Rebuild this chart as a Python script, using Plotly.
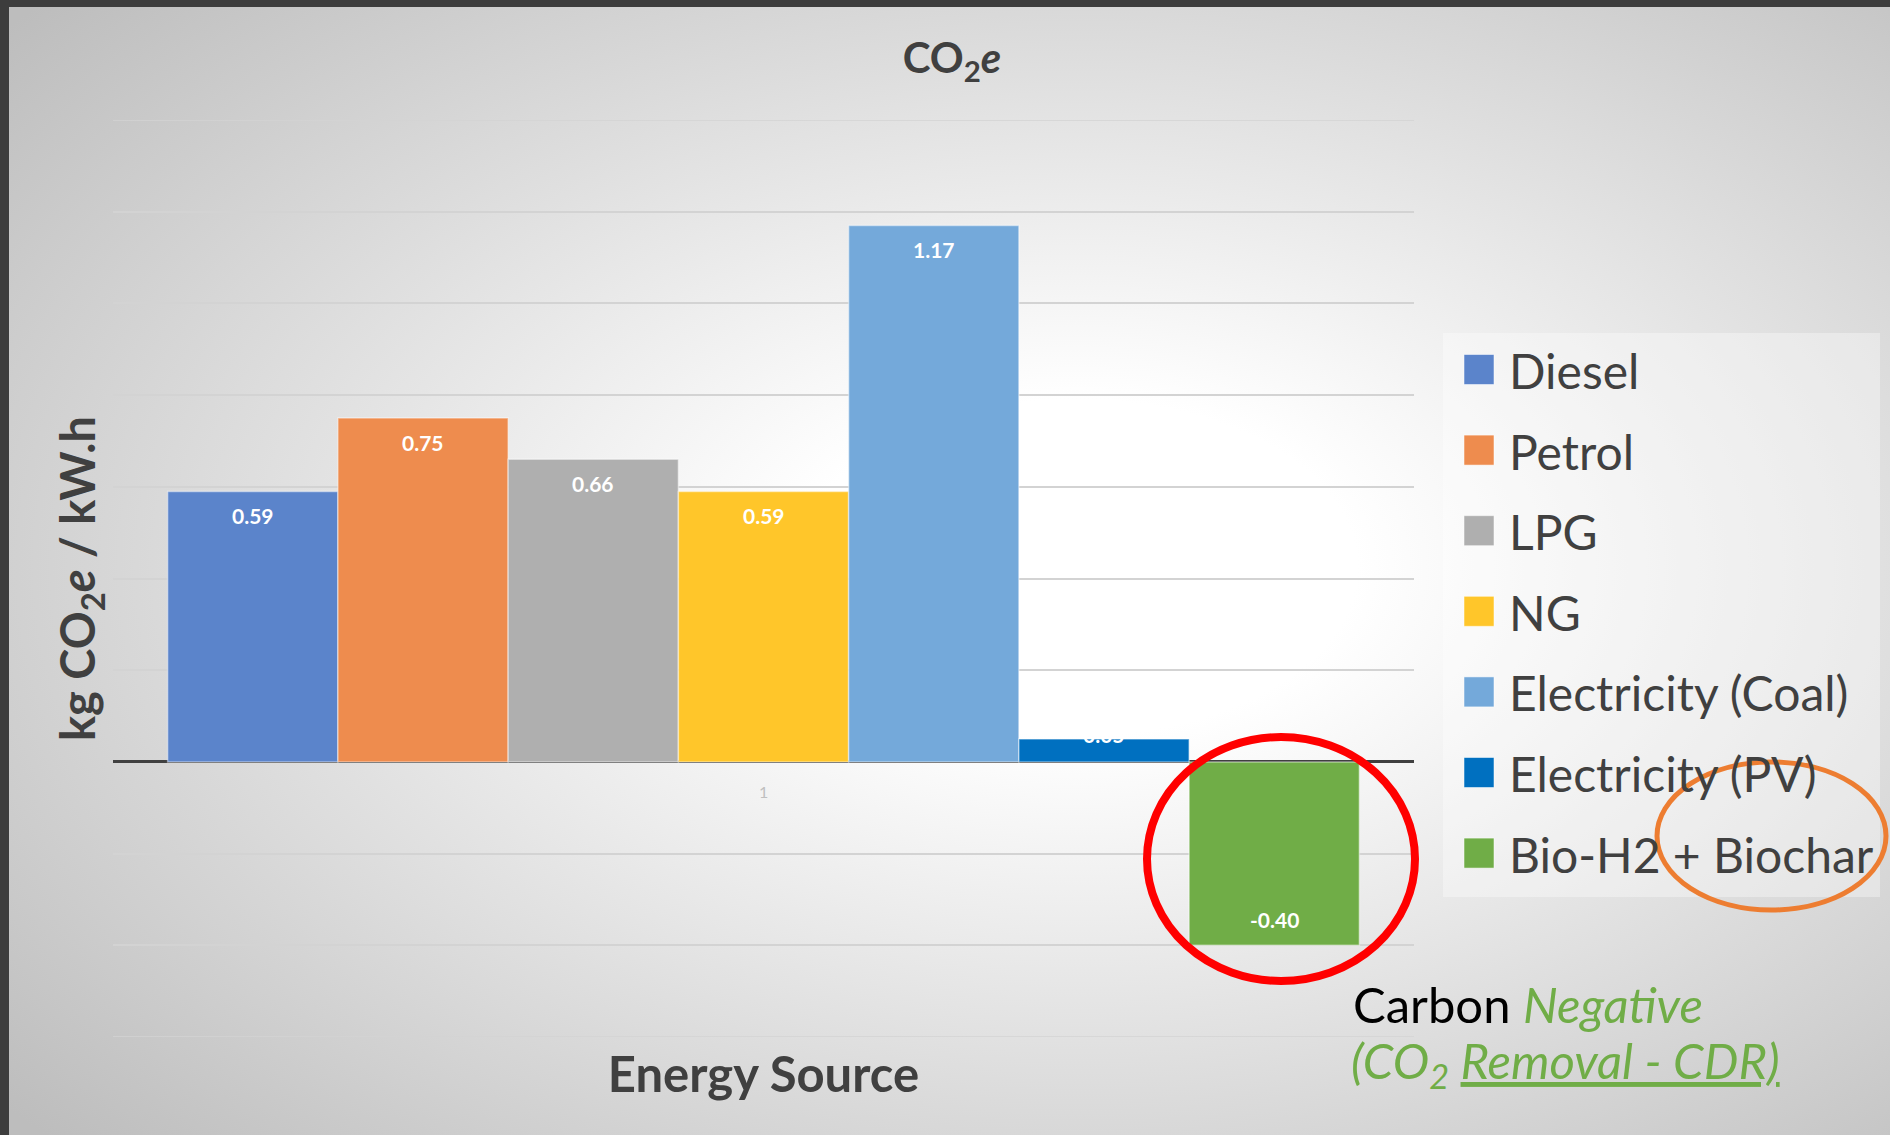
import base64
import plotly.graph_objects as go

# ---------------- data ----------------
categories = ["1"]
series_names = ["Diesel", "Petrol", "LPG", "NG", "Electricity (Coal)", "Electricity (PV)", "Bio-H2 + Biochar"]
series_values = [0.59, 0.75, 0.66, 0.59, 1.17, 0.05, -0.40]
series_colors = ["#5B84CB", "#EE8C4E", "#AFAFAF", "#FFC62A", "#74A9DA", "#0070C0", "#70AD47"]

title_text = "<b>CO<sub>2</sub><i>e</i></b>"
y_title = "<b>kg CO<sub>2</sub><i>e</i> / kW.h</b>"
x_title = "<b>Energy Source</b>"

# ---------------- layout geometry (pixels) ----------------
W, H = 1890, 1135
ML, MR, MT, MB = 113, 476, 120, 98
PW, PH = W - ML - MR, H - MT - MB
Y_RANGE = [-0.6, 1.4]
BARGAP = 0.084
PX_PER_UNIT = PH / (Y_RANGE[1] - Y_RANGE[0])
GRID = "#D3D3D3"


def px(xp):
    return (xp - ML) / PW


def py(yp):
    return (H - MB - yp) / PH


FONT = "Lato, 'Open Sans', sans-serif"
TXT = "#404040"

n = len(series_names)
bar_w = (1 - BARGAP) / n
fig = go.Figure()
annotations = []
for i, (name, val, col) in enumerate(zip(series_names, series_values, series_colors)):
    off = -0.5 * (1 - BARGAP) + i * bar_w
    fig.add_trace(go.Bar(
        x=categories, y=[val], name=name, offset=off, width=bar_w,
        marker=dict(color=col, line=dict(color="rgba(255,255,255,0.45)", width=1.5)),
        showlegend=False,
    ))
    # data label (inside end, like the original)
    h = abs(val) * PX_PER_UNIT
    if h > 50:
        shift = -24 if val > 0 else 26
    else:
        shift = 4
    annotations.append(dict(text=f"{val:.2f}", xref="x", yref="y", x=off + bar_w / 2, y=val,
                            yshift=shift, showarrow=False, xanchor="center", yanchor="middle",
                            font=dict(family=FONT, size=21, color="white", weight="bold")))

# gradient background (slide background)
svg = f'''<svg xmlns="http://www.w3.org/2000/svg" width="{W}" height="{H}" viewBox="0 0 {W} {H}" preserveAspectRatio="none">
<defs><radialGradient id="g" cx="0.57" cy="0.5" r="0.74" fx="0.57" fy="0.5">
<stop offset="0" stop-color="#ffffff"/><stop offset="0.2" stop-color="#ffffff"/>
<stop offset="1" stop-color="#bdbdbd"/></radialGradient></defs>
<rect x="0" y="0" width="{W}" height="{H}" fill="url(#g)"/></svg>'''
src = "data:image/svg+xml;base64," + base64.b64encode(svg.encode()).decode()

shapes = []
# gridlines at the two range ends (plotly drops gridlines on the plot edges)
for yv in Y_RANGE:
    shapes.append(dict(type="line", xref="paper", yref="y", x0=0, x1=1, y0=yv, y1=yv,
                       layer="below", line=dict(color=GRID, width=1.5)))
# legend panel
shapes.append(dict(type="rect", xref="paper", yref="paper", layer="below",
                   x0=px(1443), x1=px(1880), y0=py(897), y1=py(333),
                   fillcolor="rgba(255,255,255,0.35)", line=dict(width=0)))
# slide frame
shapes.append(dict(type="rect", xref="paper", yref="paper", layer="above",
                   x0=px(0), x1=px(W), y0=py(7), y1=py(0), fillcolor="#3d3d3d", line=dict(width=0)))
shapes.append(dict(type="rect", xref="paper", yref="paper", layer="above",
                   x0=px(0), x1=px(9), y0=py(H), y1=py(0), fillcolor="#3d3d3d", line=dict(width=0)))

# custom legend
row0, row_step = 369.5, 80.6
for i, (name, col) in enumerate(zip(series_names, series_colors)):
    cy = row0 + i * row_step
    shapes.append(dict(type="rect", xref="paper", yref="paper", layer="above",
                       x0=px(1464), x1=px(1494), y0=py(cy + 15), y1=py(cy - 15),
                       fillcolor=col, line=dict(color="rgba(255,255,255,0.5)", width=1)))
    annotations.append(dict(text=name, xref="paper", yref="paper", x=px(1507), y=py(cy + 1),
                            xanchor="left", yanchor="middle", showarrow=False,
                            font=dict(family=FONT, size=48, color=TXT)))

# highlight ellipses
shapes.append(dict(type="circle", xref="paper", yref="paper", layer="above",
                   x0=px(1147), x1=px(1415), y0=py(981), y1=py(737),
                   line=dict(color="#FF0000", width=8)))
shapes.append(dict(type="circle", xref="paper", yref="paper", layer="above",
                   x0=px(1657), x1=px(1886), y0=py(910), y1=py(762),
                   line=dict(color="#ED7D31", width=5)))

# category tick label at the zero line
annotations.append(dict(text=categories[0], xref="x", yref="y", x=0, y=0, yshift=-30,
                        showarrow=False, font=dict(family=FONT, size=16, color="#BFBFBF")))

# carbon negative note
annotations.append(dict(text="Carbon <span style='color:#70AD47'><i>Negative</i></span>",
                        xref="paper", yref="paper", x=px(1351), y=py(1004),
                        xanchor="left", yanchor="middle", showarrow=False,
                        font=dict(family=FONT, size=49, color="#000000")))
annotations.append(dict(text="<i>(CO<sub>2</sub> <u>Removal - CDR)</u></i>",
                        xref="paper", yref="paper", x=px(1349), y=py(1063),
                        xanchor="left", yanchor="middle", showarrow=False,
                        font=dict(family=FONT, size=49, color="#70AD47")))

fig.update_layout(
    width=W, height=H,
    margin=dict(l=ML, r=MR, t=MT, b=MB, autoexpand=False),
    paper_bgcolor="#d0d0d0", plot_bgcolor="rgba(0,0,0,0)",
    barmode="group", bargap=BARGAP, bargroupgap=0,
    showlegend=False,
    title=dict(text=title_text, x=952 / W, xref="container", xanchor="center",
               y=1 - 58 / H, yref="container", yanchor="middle",
               font=dict(family=FONT, size=42, color=TXT)),
    xaxis=dict(showticklabels=False, ticks="", showgrid=False, showline=False, range=[-0.5, 0.5],
               title=dict(text=x_title, standoff=20, font=dict(family=FONT, size=49, color=TXT))),
    yaxis=dict(range=Y_RANGE, dtick=0.2, tick0=0,
               showticklabels=False, ticks="",
               showgrid=True, gridcolor=GRID, gridwidth=1.5,
               zeroline=True, zerolinecolor="#404040", zerolinewidth=3,
               title=dict(text=y_title, standoff=1, font=dict(family=FONT, size=47, color=TXT))),
    images=[dict(source=src, xref="paper", yref="paper", x=px(0), y=py(0),
                 sizex=W / PW, sizey=H / PH, xanchor="left", yanchor="top",
                 sizing="stretch", layer="below")],
    shapes=shapes, annotations=annotations,
)

fig.write_html("out.html", config={"displayModeBar": False},
               post_script="document.body.style.margin='0px';document.body.style.overflow='hidden';")
